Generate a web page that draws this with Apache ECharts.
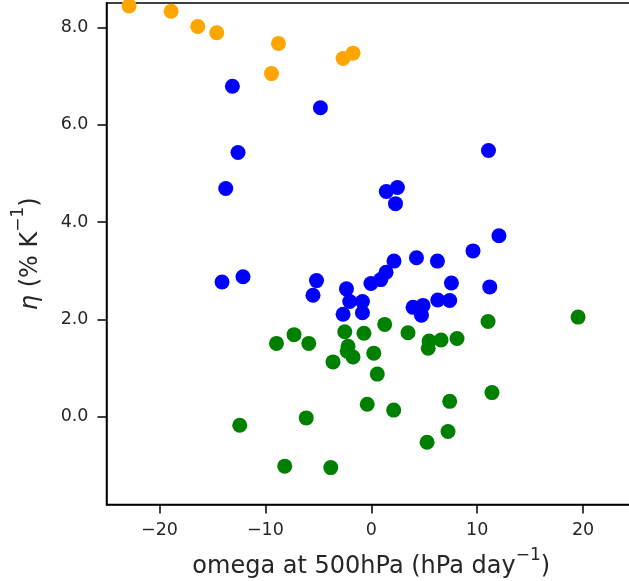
<!DOCTYPE html>
<html>
<head>
<meta charset="utf-8">
<script src="https://cdn.jsdelivr.net/npm/echarts@6/dist/echarts.min.js"></script>
<style>
html,body{margin:0;padding:0;background:#fff;}
#chart{width:629px;height:581px;}
</style>
</head>
<body>
<div id="chart"></div>
<script>
// Orange group
const orangeX = [-22.87, -18.90, -16.38, -14.59, -8.76, -9.42, -2.66, -1.72];
const orangeY = [8.44, 8.33, 8.02, 7.89, 7.67, 7.05, 7.36, 7.47];
// Blue group
const blueX = [-13.11, -12.58, -13.74, -4.80, 11.07, 1.42, 2.47, 2.29, 12.06, 9.61, 4.27, 6.25, 2.15, 1.40, 0.90, -0.03, 7.57, 11.19, -5.17, -5.50, -2.34, -2.03, -0.83, -2.66, -0.83, 3.95, 4.89, 4.74, 6.28, 7.41, -14.09, -12.11];
const blueY = [6.79, 5.43, 4.69, 6.35, 5.47, 4.63, 4.71, 4.38, 3.72, 3.41, 3.27, 3.20, 3.20, 2.97, 2.82, 2.74, 2.75, 2.67, 2.80, 2.50, 2.63, 2.37, 2.37, 2.11, 2.14, 2.25, 2.29, 2.09, 2.40, 2.39, 2.77, 2.88];
// Green group
const greenX = [-8.95, -7.29, -5.90, -2.50, -0.69, -2.19, -2.27, -1.72, -3.61, 0.24, 0.57, 1.27, 3.47, 5.46, 6.59, 8.10, 5.38, 11.03, 19.53, -0.38, 2.12, 7.41, 11.40, 7.25, 5.27, -12.42, -6.14, -8.17, -3.82];
const greenY = [1.51, 1.69, 1.51, 1.75, 1.72, 1.45, 1.35, 1.23, 1.13, 1.31, 0.88, 1.90, 1.73, 1.56, 1.58, 1.61, 1.41, 1.96, 2.05, 0.26, 0.14, 0.32, 0.50, -0.30, -0.52, -0.17, -0.02, -1.01, -1.04];

const xTicks = [-20, -10, 0, 10, 20];
const yTicks = [0, 2, 4, 6, 8];
const xRange = [-25, 25];
const yRange = [-1.8, 8.5];

const zip = (xs, ys) => xs.map((x, i) => [x, ys[i]]);

const chart = echarts.init(document.getElementById('chart'), null, {renderer: 'canvas'});
const textColor = '#262626';
const font = 'DejaVu Sans';

function scatter(name, xs, ys, color) {
  return {
    name: name,
    type: 'scatter',
    data: zip(xs, ys),
    symbol: 'circle',
    symbolSize: 15,
    itemStyle: {color: color, opacity: 1},
    emphasis: {disabled: true},
    silent: true,
    animation: false
  };
}

chart.setOption({
  animation: false,
  backgroundColor: '#fff',
  grid: {
    left: 106.5,
    top: 3,
    width: 529.5,
    height: 501.6,
    containLabel: false,
    outerBoundsMode: 'none',
    show: true,
    borderColor: '#000',
    borderWidth: 1.5,
    backgroundColor: 'transparent'
  },
  xAxis: {
    type: 'value',
    min: xRange[0],
    max: xRange[1],
    name: '{a|omega at 500hPa (hPa day}{s|−1}{a|)}',
    nameLocation: 'middle',
    nameGap: 42,
    nameTextStyle: {
      rich: {
        a: {fontFamily: font, fontSize: 24, color: textColor, verticalAlign: 'bottom', lineHeight: 32},
        s: {fontFamily: font, fontSize: 17, color: textColor, verticalAlign: 'top', lineHeight: 32}
      }
    },
    axisLine: {show: true, onZero: false, lineStyle: {color: '#000', width: 1.5}},
    axisTick: {show: true, length: 9, customValues: xTicks, lineStyle: {color: '#000', width: 1.5}},
    axisLabel: {show: true, customValues: xTicks, margin: 17, fontFamily: font, fontSize: 17.5, color: textColor,
      formatter: v => (v < 0 ? '\u2212' + Math.abs(v) : String(v))},
    splitLine: {show: false}
  },
  yAxis: {
    type: 'value',
    min: yRange[0],
    max: yRange[1],
    name: '{i|η}{a| (% K}{s|−1}{a|)}',
    nameLocation: 'middle',
    nameGap: 64,
    nameRotate: 90,
    nameTextStyle: {
      rich: {
        i: {fontFamily: font, fontStyle: 'italic', fontSize: 24, color: textColor, verticalAlign: 'bottom', lineHeight: 32},
        a: {fontFamily: font, fontSize: 24, color: textColor, verticalAlign: 'bottom', lineHeight: 32},
        s: {fontFamily: font, fontSize: 17, color: textColor, verticalAlign: 'top', lineHeight: 32}
      }
    },
    axisLine: {show: true, onZero: false, lineStyle: {color: '#000', width: 1.5}},
    axisTick: {show: true, length: 9, customValues: yTicks, lineStyle: {color: '#000', width: 1.5}},
    axisLabel: {show: true, customValues: yTicks, margin: 18, fontFamily: font, fontSize: 17.5, color: textColor,
      formatter: v => v.toFixed(1)},
    splitLine: {show: false}
  },
  series: [
    scatter('orange', orangeX, orangeY, '#FFA500'),
    scatter('blue', blueX, blueY, '#0000FF'),
    scatter('green', greenX, greenY, '#008000')
  ]
});
</script>
</body>
</html>
